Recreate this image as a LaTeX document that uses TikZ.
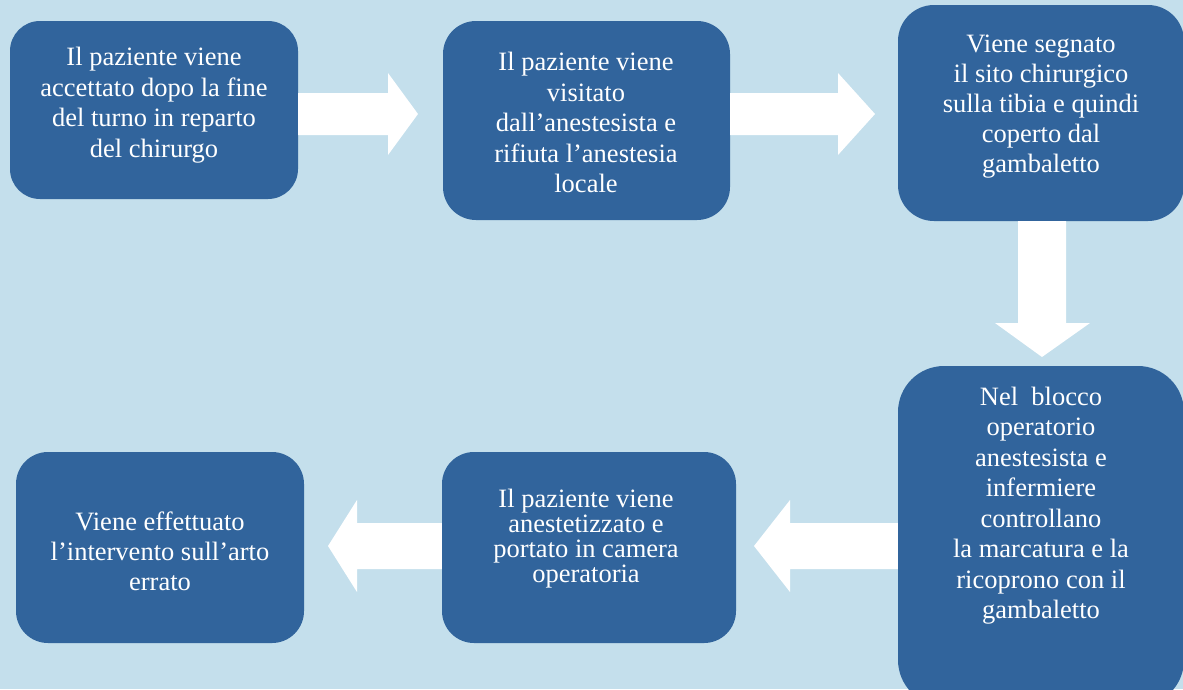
\documentclass[tikz,border=0pt]{standalone}
\usepackage{fontspec}
\setmainfont{Liberation Serif}
\definecolor{bgblue}{RGB}{196,223,236}
\definecolor{boxblue}{RGB}{49,100,156}
\tikzset{
  box/.style={fill=boxblue, draw=none, inner sep=0pt},
  txt/.style={text=white, align=center, font=\fontsize{26.5}{30.5}\selectfont, inner sep=0pt},
  blockarrow/.style={fill=white, draw=none}
}
\begin{document}
\begin{tikzpicture}[x=1pt,y=-1pt]
\fill[bgblue] (0,0) rectangle (1183,689);
\useasboundingbox (0,0) rectangle (1183,689);
\begin{scope}
\clip (0,0) rectangle (1183,689);
% boxes
\node[box, rounded corners=30pt, minimum width=288pt, minimum height=178pt] (b1) at (154,110) {};
\node[box, rounded corners=33pt, minimum width=287pt, minimum height=199pt] (b2) at (586.5,120.5) {};
\node[box, rounded corners=36pt, minimum width=286pt, minimum height=216pt] (b3) at (1041,113) {};
\node[box, rounded corners=46pt, minimum width=286pt, minimum height=340pt] (b4) at (1041,536) {};
\node[box, rounded corners=32pt, minimum width=294pt, minimum height=191pt] (b5) at (589,547.5) {};
\node[box, rounded corners=32pt, minimum width=288pt, minimum height=191pt] (b6) at (160,547.5) {};
\end{scope}
% texts
\node[txt] (t1) at (154,105) {Il paziente viene\\accettato dopo la fine\\del turno in reparto\\del chirurgo};
\node[txt] (t2) at (586,122.5) {Il paziente viene\\visitato\\dall’anestesista e\\rifiuta l’anestesia\\locale};
\node[txt, font=\fontsize{26.5}{30}\selectfont] (t3) at (1041,107) {Viene segnato\\il sito chirurgico\\sulla tibia e quindi\\coperto dal\\gambaletto};
\node[txt] (t4) at (1041,505.5) {Nel\ \ blocco\\operatorio\\anestesista e\\infermiere\\controllano\\la marcatura e la\\ricoprono con il\\gambaletto};
\node[txt, font=\fontsize{26.5}{25}\selectfont] (t5) at (586,539) {Il paziente viene\\anestetizzato e\\portato in camera\\operatoria};
\node[txt, font=\fontsize{26.5}{30}\selectfont] (t6) at (160,551) {Viene effettuato\\l’intervento sull’arto\\errato};
% block arrows
\fill[blockarrow] (b1.east |- 0,93) -- (388,93) -- (388,73) -- (418,114) -- (388,155) -- (388,135) -- (b1.east |- 0,135) -- cycle;
\fill[blockarrow] (b2.east |- 0,93) -- (838,93) -- (838,73) -- (875,114) -- (838,155) -- (838,135) -- (b2.east |- 0,135) -- cycle;
\fill[blockarrow] (b3.south -| 1018,0) -- (1066,221) -- (1066,323) -- (1090,323) -- (1042,357) -- (995,323) -- (1018,323) -- cycle;
\fill[blockarrow] (b4.west |- 0,523) -- (790,523) -- (790,500) -- (754,546) -- (790,592) -- (790,569) -- (b4.west |- 0,569) -- cycle;
\fill[blockarrow] (b5.west |- 0,523) -- (357,523) -- (357,500) -- (328,546) -- (357,592) -- (357,569) -- (b5.west |- 0,569) -- cycle;
\end{tikzpicture}
\end{document}
